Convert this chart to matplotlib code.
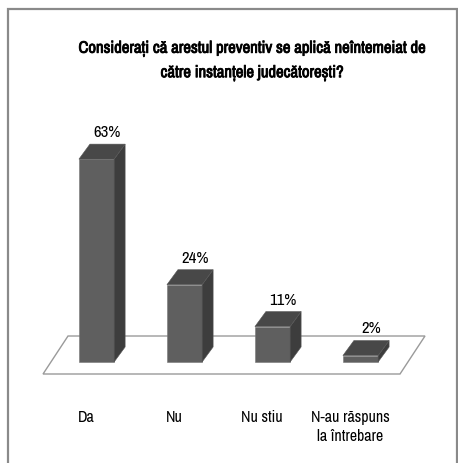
import matplotlib
matplotlib.use("Agg")
import matplotlib.pyplot as plt
import matplotlib.patheffects as pe
from matplotlib.patches import Polygon, Rectangle

# survey answers
categories = ["Da", "Nu", "Nu stiu", "N-au răspuns\nla întrebare"]
values = [63, 24, 11, 2]
value_labels = ["63%", "24%", "11%", "2%"]
title = "Considerați că arestul preventiv se aplică neîntemeiat de\ncătre instanțele judecătorești?"

plt.rcParams["font.family"] = ["Archivo Narrow", "DejaVu Sans"]

FRONT = "#5f5f5f"
SIDE = "#3d3d3d"
TOP = "#484848"

fig = plt.figure(figsize=(4.58, 4.64), dpi=100)
ax = fig.add_axes([0, 0, 1, 1])
ax.set_xlim(-1.097, 4.108)
ax.set_ylim(-31.37, 112.73)
ax.axis("off")

# outer frame
fig.patches.append(Rectangle((8 / 458, -0.05), 448.5 / 458, 1 - 10 / 464 + 0.05,
                             transform=fig.transFigure, fill=False,
                             edgecolor="#8a8a8a", lw=1.6))

# floor
floor = Polygon([(-0.608, -3.73), (3.449, -3.73), (3.733, 8.07), (-0.324, 8.07)],
                closed=True, facecolor="white", edgecolor="#9a9a9a", lw=1.0, zorder=1)
ax.add_patch(floor)

w = 0.4
dx, dy = 0.125, 4.66
x = list(range(len(values)))
ax.bar(x, values, width=w, color=FRONT, edgecolor="#777777", linewidth=0.4, zorder=3)
for xi, v in zip(x, values):
    l, r = xi - w / 2, xi + w / 2
    ax.add_patch(Polygon([(r, 0), (r + dx, dy), (r + dx, v + dy), (r, v)],
                         closed=True, facecolor=SIDE, edgecolor="#555555", lw=0.4, zorder=3))
    ax.add_patch(Polygon([(l, v), (r, v), (r + dx, v + dy), (l + dx, v + dy)],
                         closed=True, facecolor=TOP, edgecolor="#555555", lw=0.4, zorder=3))

for xi, v, lab in zip(x, values, value_labels):
    ax.text(xi + 0.12, v + dy + 3.9, lab, ha="center", va="center", fontsize=12, zorder=4)

for xi, cat in zip(x, categories):
    ax.text(xi - 0.12, -14.6, cat, ha="center", va="top", fontsize=11.5,
            linespacing=1.35, zorder=4)

fig.text(252 / 458, 1 - 62 / 464, title, ha="center", va="center",
         fontsize=12, linespacing=1.7,
         path_effects=[pe.withStroke(linewidth=0.6, foreground="black")])

fig.savefig("out.png", dpi=100)
